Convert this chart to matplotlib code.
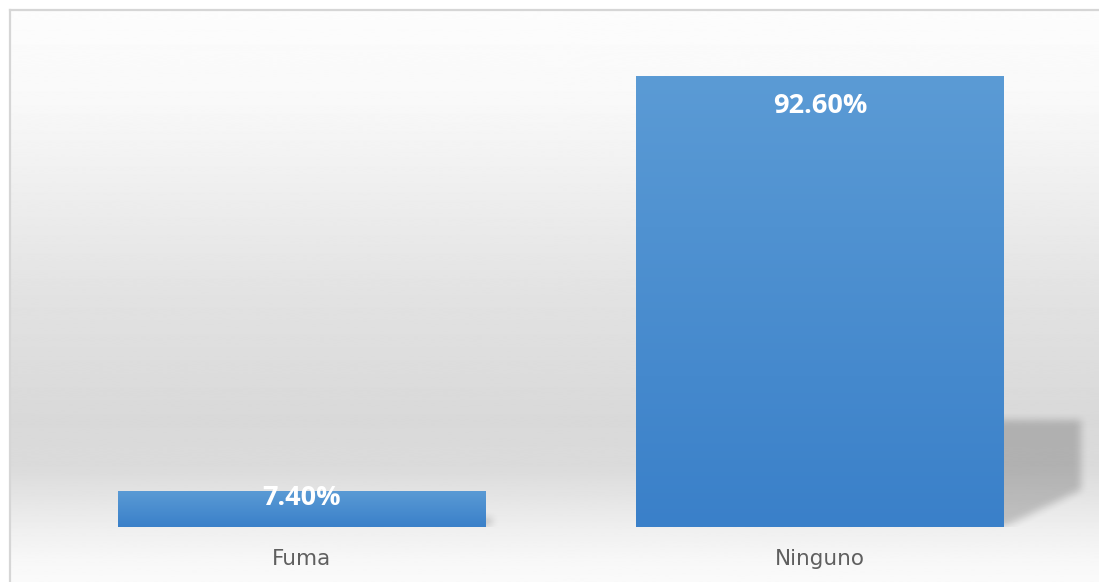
import numpy as np
import matplotlib.pyplot as plt
from matplotlib.path import Path
from matplotlib.colors import LinearSegmentedColormap

categories = ["Fuma", "Ninguno"]
percentages = [7.40, 92.60]
value_labels = ["7.40%", "92.60%"]

W, H = 1099, 582
fig = plt.figure(figsize=(W / 100, H / 100), dpi=100)
fig.patch.set_facecolor("white")

# chart area: white at the top, grey band low down, white again at the bottom
bg = fig.add_axes([10 / W, 0, 1 - 10 / W, 1 - 10 / H])
ypx = np.linspace(10, 582, 600)
shade = np.interp(ypx, [10, 100, 200, 300, 420, 470, 527, 560, 582],
                  [0.99, 0.975, 0.93, 0.885, 0.85, 0.86, 0.935, 0.97, 0.98])
bg.imshow(shade[:, None], cmap="gray", vmin=0, vmax=1, aspect="auto",
          extent=(0, 1, 0, 1), interpolation="bilinear")
bg.set_xlim(0, 1)
bg.set_ylim(0, 1)
bg.set_xticks([])
bg.set_yticks([])
for side in ["right", "bottom"]:
    bg.spines[side].set_visible(False)
for side in ["left", "top"]:
    bg.spines[side].set_color("#d6d6d6")
    bg.spines[side].set_linewidth(1.6)

# plot axes, transparent over the panel
ax_w, ax_h = W - 10, 582 - 10 - 55
ax = fig.add_axes([10 / W, 55 / H, ax_w / W, ax_h / H])
ax.patch.set_alpha(0)
xlim = (-0.5637, 1.5386)
ylim = (0, 106.2)
ax.set_xlim(*xlim)
ax.set_ylim(*ylim)

x = np.arange(len(categories))
bar_w = 0.71

# perspective shadows behind the bars, scaled with bar height
gx = xlim[0] + (np.arange(ax_w) + 0.5) / ax_w * (xlim[1] - xlim[0])
gy = ylim[0] + (np.arange(ax_h) + 0.5) / ax_h * (ylim[1] - ylim[0])
XX, YY = np.meshgrid(gx, gy)
pts = np.column_stack([XX.ravel(), YY.ravel()])
mask = np.zeros(XX.shape)
for xi, v in zip(x, percentages):
    xr = xi + bar_w / 2
    dx = v * 0.0016
    poly = Path([(xr - 0.05, 0), (xr - 0.05, v * 0.237), (xr + dx, v * 0.237),
                 (xr + dx, v * 0.082), (xr, 0)])
    mask = np.maximum(mask, poly.contains_points(pts).reshape(XX.shape))
k = np.ones(9) / 9
for _ in range(2):
    mask = np.apply_along_axis(lambda r: np.convolve(r, k, mode="same"), 1, mask)
    mask = np.apply_along_axis(lambda c: np.convolve(c, k, mode="same"), 0, mask)
shadow = np.zeros(XX.shape + (4,))
shadow[..., 3] = mask * 0.19
ax.imshow(shadow, origin="lower", extent=(*xlim, *ylim), aspect="auto",
          interpolation="bilinear", zorder=1)

bars = ax.bar(x, percentages, width=bar_w, color="#4a8dd0", zorder=2)

# vertical blue gradient inside each bar
blue = LinearSegmentedColormap.from_list("blue", ["#3a80c9", "#5b9bd5"])
grad = np.linspace(0, 1, 256)[:, None]
for b in bars:
    bx, bw, bh = b.get_x(), b.get_width(), b.get_height()
    im = ax.imshow(grad, cmap=blue, origin="lower", aspect="auto",
                   extent=(bx, bx + bw, 0, bh), zorder=3)
    im.set_clip_path(b)

ax.set_xlim(*xlim)
ax.set_ylim(*ylim)

label_offsets = [-7.5, -30]  # pixels below the bar top
for xi, v, lab, off in zip(x, percentages, value_labels, label_offsets):
    ax.annotate(lab, (xi, v), xytext=(0, off * 0.72), textcoords="offset points",
                ha="center", va="center", color="white", fontsize=19.5,
                fontweight="bold", family="Open Sans", zorder=4)

ax.set_xticks(x)
ax.set_xticklabels(categories, fontsize=15.5, color="#5f5f5f", family="DejaVu Sans")
ax.tick_params(axis="x", length=0, pad=15.5)
ax.set_yticks([])
for s in ax.spines.values():
    s.set_visible(False)

fig.savefig("out.png", dpi=100)
